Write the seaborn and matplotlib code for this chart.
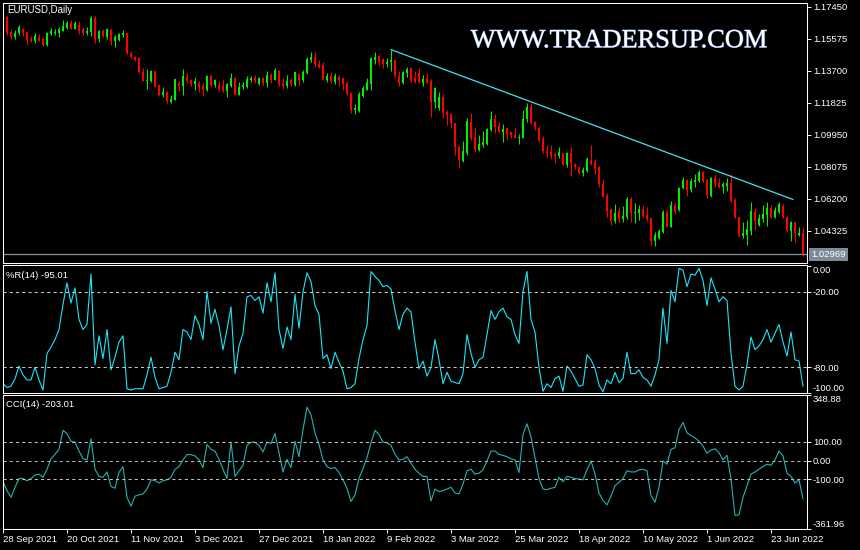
import numpy as np
import pandas as pd
import matplotlib
matplotlib.use("Agg")
import matplotlib.pyplot as plt
import matplotlib.patheffects as pe
import seaborn as sns

# ---------------- data ----------------
opens = [1.1696, 1.1685, 1.1600, 1.1571, 1.1591, 1.1616, 1.1599, 1.1556, 1.1548, 1.1563,
         1.1556, 1.1524, 1.1587, 1.1590, 1.1591, 1.1606, 1.1622, 1.1649, 1.1618, 1.1641,
         1.1614, 1.1594, 1.1599, 1.1681, 1.1559, 1.1606, 1.1571, 1.1610, 1.1548, 1.1552,
         1.1583, 1.1591, 1.1477, 1.1450, 1.1446, 1.1364, 1.1313, 1.1310, 1.1368, 1.1286,
         1.1231, 1.1247, 1.1188, 1.1200, 1.1298, 1.1282, 1.1333, 1.1317, 1.1294, 1.1301,
         1.1282, 1.1259, 1.1341, 1.1286, 1.1286, 1.1282, 1.1255, 1.1282, 1.1329, 1.1231,
         1.1274, 1.1278, 1.1317, 1.1329, 1.1294, 1.1329, 1.1298, 1.1348, 1.1319, 1.1370,
         1.1300, 1.1284, 1.1315, 1.1288, 1.1354, 1.1315, 1.1358, 1.1432, 1.1452, 1.1413,
         1.1405, 1.1315, 1.1339, 1.1304, 1.1335, 1.1327, 1.1300, 1.1241, 1.1140, 1.1136,
         1.1222, 1.1260, 1.1296, 1.1433, 1.1456, 1.1440, 1.1409, 1.1421, 1.1433, 1.1342,
         1.1300, 1.1360, 1.1386, 1.1327, 1.1356, 1.1301, 1.1327, 1.1310, 1.1187, 1.1153,
         1.1219, 1.1128, 1.1116, 1.1063, 1.0926, 1.0843, 1.0888, 1.1069, 1.0985, 1.0907,
         1.0936, 1.0940, 1.1024, 1.1089, 1.1049, 1.1014, 1.1034, 1.1011, 1.0995, 1.0979,
         1.0979, 1.1087, 1.1160, 1.1069, 1.1034, 1.0970, 1.0903, 1.0895, 1.0884, 1.0872,
         1.0888, 1.0819, 1.0888, 1.0825, 1.0806, 1.0774, 1.0786, 1.0848, 1.0838, 1.0809,
         1.0708, 1.0637, 1.0559, 1.0493, 1.0551, 1.0501, 1.0513, 1.0618, 1.0540, 1.0540,
         1.0559, 1.0526, 1.0507, 1.0375, 1.0390, 1.0428, 1.0545, 1.0458, 1.0579, 1.0555,
         1.0683, 1.0731, 1.0673, 1.0718, 1.0725, 1.0776, 1.0731, 1.0639, 1.0741, 1.0712,
         1.0692, 1.0698, 1.0712, 1.0614, 1.0516, 1.0405, 1.0409, 1.0432, 1.0545, 1.0467,
         1.0503, 1.0526, 1.0565, 1.0516, 1.0542, 1.0581, 1.0516, 1.0432, 1.0483, 1.0409,
         1.0419]
highs = [1.1701, 1.1696, 1.1614, 1.1610, 1.1641, 1.1624, 1.1606, 1.1575, 1.1591, 1.1587,
         1.1567, 1.1599, 1.1622, 1.1617, 1.1626, 1.1669, 1.1661, 1.1669, 1.1661, 1.1661,
         1.1626, 1.1626, 1.1692, 1.1692, 1.1610, 1.1618, 1.1622, 1.1618, 1.1579, 1.1591,
         1.1610, 1.1594, 1.1485, 1.1458, 1.1454, 1.1388, 1.1383, 1.1376, 1.1372, 1.1290,
         1.1274, 1.1255, 1.1228, 1.1325, 1.1310, 1.1383, 1.1360, 1.1325, 1.1337, 1.1310,
         1.1301, 1.1345, 1.1352, 1.1325, 1.1310, 1.1321, 1.1301, 1.1356, 1.1333, 1.1306,
         1.1306, 1.1341, 1.1341, 1.1345, 1.1333, 1.1333, 1.1368, 1.1356, 1.1389, 1.1378,
         1.1327, 1.1347, 1.1331, 1.1366, 1.1358, 1.1378, 1.1452, 1.1479, 1.1479, 1.1433,
         1.1421, 1.1358, 1.1366, 1.1358, 1.1347, 1.1331, 1.1311, 1.1241, 1.1178, 1.1245,
         1.1280, 1.1331, 1.1452, 1.1479, 1.1464, 1.1444, 1.1444, 1.1495, 1.1433, 1.1370,
         1.1370, 1.1395, 1.1395, 1.1372, 1.1386, 1.1347, 1.1356, 1.1325, 1.1278, 1.1247,
         1.1233, 1.1141, 1.1122, 1.1063, 1.0936, 1.0960, 1.1093, 1.1122, 1.1044, 1.0995,
         1.1018, 1.1038, 1.1136, 1.1116, 1.1073, 1.1058, 1.1038, 1.1014, 1.1038, 1.0999,
         1.1141, 1.1185, 1.1185, 1.1077, 1.1049, 1.0989, 1.0936, 1.0936, 1.0897, 1.0922,
         1.0891, 1.0897, 1.0923, 1.0833, 1.0813, 1.0809, 1.0864, 1.0936, 1.0853, 1.0813,
         1.0735, 1.0653, 1.0567, 1.0591, 1.0575, 1.0579, 1.0633, 1.0633, 1.0595, 1.0585,
         1.0583, 1.0575, 1.0507, 1.0428, 1.0442, 1.0555, 1.0559, 1.0610, 1.0598, 1.0692,
         1.0751, 1.0737, 1.0741, 1.0765, 1.0790, 1.0784, 1.0737, 1.0751, 1.0765, 1.0741,
         1.0718, 1.0745, 1.0765, 1.0624, 1.0522, 1.0487, 1.0497, 1.0604, 1.0565, 1.0530,
         1.0585, 1.0604, 1.0585, 1.0575, 1.0601, 1.0589, 1.0522, 1.0491, 1.0487, 1.0458,
         1.0458]
lows = [1.1669, 1.1581, 1.1556, 1.1557, 1.1579, 1.1577, 1.1524, 1.1540, 1.1536, 1.1544,
        1.1516, 1.1518, 1.1579, 1.1580, 1.1567, 1.1603, 1.1614, 1.1614, 1.1614, 1.1587,
        1.1579, 1.1583, 1.1575, 1.1532, 1.1540, 1.1567, 1.1559, 1.1524, 1.1512, 1.1544,
        1.1571, 1.1470, 1.1438, 1.1427, 1.1356, 1.1310, 1.1263, 1.1306, 1.1275, 1.1223,
        1.1219, 1.1185, 1.1184, 1.1200, 1.1254, 1.1231, 1.1298, 1.1282, 1.1259, 1.1247,
        1.1223, 1.1255, 1.1278, 1.1278, 1.1251, 1.1247, 1.1219, 1.1278, 1.1231, 1.1231,
        1.1263, 1.1270, 1.1306, 1.1301, 1.1290, 1.1286, 1.1274, 1.1298, 1.1315, 1.1280,
        1.1265, 1.1272, 1.1280, 1.1284, 1.1284, 1.1307, 1.1350, 1.1425, 1.1393, 1.1386,
        1.1315, 1.1307, 1.1300, 1.1296, 1.1284, 1.1260, 1.1225, 1.1124, 1.1120, 1.1132,
        1.1218, 1.1257, 1.1260, 1.1409, 1.1405, 1.1386, 1.1393, 1.1370, 1.1327, 1.1280,
        1.1296, 1.1333, 1.1307, 1.1298, 1.1298, 1.1282, 1.1298, 1.1100, 1.1155, 1.1141,
        1.1093, 1.1053, 1.1034, 1.0878, 1.0803, 1.0835, 1.0878, 1.0966, 1.0897, 1.0901,
        1.0926, 1.0936, 1.1018, 1.1005, 1.1005, 1.0956, 1.0966, 1.0975, 1.0975, 1.0940,
        1.0975, 1.1070, 1.1060, 1.1024, 1.0956, 1.0891, 1.0868, 1.0853, 1.0833, 1.0860,
        1.0817, 1.0806, 1.0755, 1.0794, 1.0766, 1.0755, 1.0780, 1.0819, 1.0766, 1.0692,
        1.0630, 1.0513, 1.0467, 1.0481, 1.0487, 1.0487, 1.0501, 1.0487, 1.0481, 1.0497,
        1.0513, 1.0493, 1.0350, 1.0344, 1.0384, 1.0422, 1.0454, 1.0454, 1.0532, 1.0550,
        1.0678, 1.0639, 1.0663, 1.0692, 1.0721, 1.0718, 1.0624, 1.0633, 1.0692, 1.0683,
        1.0653, 1.0667, 1.0604, 1.0507, 1.0399, 1.0393, 1.0350, 1.0409, 1.0438, 1.0463,
        1.0487, 1.0463, 1.0507, 1.0510, 1.0536, 1.0510, 1.0428, 1.0374, 1.0366, 1.0405,
        1.0288]
closes = [1.1682, 1.1594, 1.1567, 1.1594, 1.1626, 1.1591, 1.1552, 1.1546, 1.1575, 1.1548,
          1.1524, 1.1594, 1.1602, 1.1601, 1.1614, 1.1634, 1.1653, 1.1618, 1.1649, 1.1602,
          1.1591, 1.1606, 1.1681, 1.1559, 1.1606, 1.1575, 1.1614, 1.1548, 1.1571, 1.1587,
          1.1594, 1.1477, 1.1450, 1.1434, 1.1364, 1.1313, 1.1317, 1.1372, 1.1278, 1.1231,
          1.1247, 1.1192, 1.1204, 1.1321, 1.1282, 1.1341, 1.1310, 1.1294, 1.1310, 1.1278,
          1.1259, 1.1341, 1.1290, 1.1317, 1.1263, 1.1255, 1.1294, 1.1329, 1.1231, 1.1278,
          1.1286, 1.1321, 1.1329, 1.1310, 1.1329, 1.1298, 1.1345, 1.1317, 1.1378, 1.1292,
          1.1284, 1.1311, 1.1292, 1.1362, 1.1315, 1.1366, 1.1440, 1.1452, 1.1409, 1.1393,
          1.1319, 1.1339, 1.1311, 1.1343, 1.1315, 1.1292, 1.1233, 1.1140, 1.1151, 1.1237,
          1.1272, 1.1307, 1.1444, 1.1452, 1.1421, 1.1413, 1.1425, 1.1433, 1.1342, 1.1300,
          1.1362, 1.1380, 1.1317, 1.1307, 1.1307, 1.1321, 1.1301, 1.1190, 1.1269, 1.1218,
          1.1122, 1.1112, 1.1063, 1.0926, 1.0848, 1.0901, 1.1077, 1.0976, 1.0907, 1.0940,
          1.0952, 1.1030, 1.1089, 1.1044, 1.1014, 1.1030, 1.0999, 1.0995, 1.0979, 1.0985,
          1.1087, 1.1160, 1.1067, 1.1044, 1.0966, 1.0903, 1.0891, 1.0872, 1.0872, 1.0895,
          1.0819, 1.0891, 1.0829, 1.0809, 1.0770, 1.0790, 1.0853, 1.0825, 1.0794, 1.0708,
          1.0633, 1.0551, 1.0493, 1.0540, 1.0501, 1.0520, 1.0618, 1.0540, 1.0546, 1.0559,
          1.0520, 1.0501, 1.0375, 1.0409, 1.0434, 1.0545, 1.0458, 1.0585, 1.0546, 1.0686,
          1.0731, 1.0673, 1.0725, 1.0731, 1.0776, 1.0725, 1.0643, 1.0745, 1.0706, 1.0692,
          1.0706, 1.0712, 1.0608, 1.0516, 1.0405, 1.0419, 1.0444, 1.0550, 1.0491, 1.0510,
          1.0530, 1.0569, 1.0516, 1.0555, 1.0589, 1.0516, 1.0432, 1.0483, 1.0419, 1.0420,
          1.02969]

wpr = [-93, -96, -95, -89, -79, -86, -90, -90, -80, -90,
       -98, -69, -64, -58, -50, -30, -13, -29, -17, -42,
       -50, -46, -6, -78, -55, -73, -50, -82, -72, -60,
       -55, -97, -98, -97, -97, -97, -86, -72, -88, -97,
       -96, -95, -84, -68, -74, -50, -52, -58, -39, -46,
       -58, -20, -45, -34, -47, -66, -50, -32, -85, -63,
       -53, -24, -23, -27, -24, -37, -13, -28, -5, -50,
       -65, -48, -58, -22, -49, -20, -5, -12, -31, -38,
       -73, -70, -81, -68, -76, -83, -97, -96, -93, -73,
       -58, -47, -4, -8, -11, -16, -15, -18, -35, -50,
       -38, -33, -36, -60, -81, -75, -87, -80, -58, -74,
       -93, -84, -91, -92, -93, -85, -54, -69, -80, -74,
       -72, -54, -35, -42, -36, -33, -40, -42, -54, -61,
       -20, -4, -42, -52, -80, -99, -93, -96, -89, -87,
       -99, -79, -83, -89, -95, -94, -70, -74, -81, -94,
       -99.5, -90, -93, -84, -92, -89, -68, -85, -85, -82,
       -88, -90, -95, -86, -74, -33, -61, -19, -28, -1.5,
       -3, -16, -6, -7, -1.5, -11, -31, -9, -18, -28,
       -24, -27, -69, -95, -98, -95, -78, -56, -66, -63,
       -58, -50, -60, -53, -46, -60, -71, -52, -74, -75,
       -95.01]

cci = [-112, -160, -195, -142, -95, -95, -107, -95, -77, -72,
       -89, -46, 10, 33, 60, 161, 144, 103, 98, 51,
       10, 4, 116, -46, -84, -89, -60, -137, -147, -63,
       -32, -195, -242, -189, -182, -177, -151, -102, -107, -119,
       -107, -102, -89, -46, -32, 4, 32, 32, 25, 4,
       -37, 86, 60, 51, 7, -46, -95, 98, -84, -54,
       -25, 81, 98, 98, 81, 46, 98, 91, 144, 42,
       -60, 7, -37, 103, 21, 165, 284, 244, 147, 86,
       4, -32, -42, -37, -63, -102, -147, -217, -182, -95,
       -42, 16, 95, 161, 139, 98, 95, 81, 33, 4,
       7, 21, -14, -46, -67, -84, -84, -215,
       -151, -165, -160, -151, -142, -172, -177, -125, -54, -46,
       -72, -67, -49, -2, 51, 51, 33, 28, 21, 10,
       4, -63, 139, 196, 126, 16, -95, -151, -154, -147,
       -142, -89, -112, -84, -89, -95, -98, -102, -49, -2,
       -72, -172, -212, -235, -189, -133, -116, -95, -54, -60,
       -60, -49, -46, -54, -186, -221, -142, -2, -19, 60,
       68, 165, 203, 147, 133, 121, 103, 77, 39, 56,
       63, 42, 4, 28, -98, -291, -288, -195, -133, -72,
       -60, -46, -32, -19, -25, 4, 51, 25, -67, -84,
       -119, -102, -203.01]

date_labels = ["28 Sep 2021", "20 Oct 2021", "11 Nov 2021", "3 Dec 2021", "27 Dec 2021",
               "18 Jan 2022", "9 Feb 2022", "3 Mar 2022", "25 Mar 2022", "18 Apr 2022",
               "10 May 2022", "1 Jun 2022", "23 Jun 2022"]
date_label_bars = [0, 16, 32, 48, 64, 80, 96, 112, 128, 144, 160, 176, 192]
price_ticks = [1.17450, 1.15575, 1.13700, 1.11825, 1.09950, 1.08075, 1.06200, 1.04325]
wpr_levels = [-20, -80]
wpr_ticks = [0, -20, -80, -100]
cci_levels = [100, 0, -100]
cci_ticks = [348.88, 100, 0, -100, -361.96]
bid_price = 1.02969
trend_bars = [97, 197.5]
trend_prices = [1.1495, 1.0617]

# ---------------- style ----------------
sns.set_theme(style="dark", rc={
    "figure.facecolor": "black", "axes.facecolor": "black",
    "axes.edgecolor": "white", "text.color": "white",
    "xtick.color": "white", "ytick.color": "white",
    "axes.grid": False, "axes.linewidth": 0.75,
})
plt.rcParams["font.family"] = ["Liberation Sans", "DejaVu Sans"]

W, H = 860, 550
fig = plt.figure(figsize=(W / 100, H / 100), dpi=100, facecolor="black")


def px_axes(x0, y0, x1, y1):
    return fig.add_axes([x0 / W, 1 - y1 / H, (x1 - x0) / W, (y1 - y0) / H])


ax1 = px_axes(3, 3, 807, 263)
ax2 = px_axes(3, 264.7, 807, 393.3)
ax3 = px_axes(3, 394.7, 807, 528.7)

n = len(closes)
df = pd.DataFrame({"bar": np.arange(n), "open": opens, "high": highs,
                   "low": lows, "close": closes})
up = df["close"] >= df["open"]
col = np.where(up, "#00ee00", "#ff0000")

# candles
ax1.vlines(df["bar"], df["low"], df["high"], colors=col, linewidth=0.75)
body_bottom = np.minimum(df["open"], df["close"])
body_h = np.maximum((df["close"] - df["open"]).abs(), 0.0005)
ax1.bar(df["bar"], body_h, bottom=body_bottom, width=0.68, color=col, linewidth=0)

# trend line
sns.lineplot(x=trend_bars, y=trend_prices, ax=ax1, color="#3fe3f2", linewidth=0.9,
             estimator=None)
# bid line
ax1.axhline(bid_price, color="#8392a3", linewidth=0.9)

ax1.set_xlim(0, 201)
ax1.set_ylim(1.0245, 1.1768)

# Williams %R
wdf = pd.DataFrame({"bar": np.arange(n), "wpr": wpr})
sns.lineplot(data=wdf, x="bar", y="wpr", ax=ax2, color="#19e6f7", linewidth=0.8,
             estimator=None)
for lv in wpr_levels:
    ax2.axhline(lv, color="#c8c8c8", linewidth=0.75, linestyle=(0, (3, 3)))
ax2.set_xlim(0, 201)
ax2.set_ylim(-100.6, 1.4)

# CCI
cdf = pd.DataFrame({"bar": np.arange(n), "cci": cci})
sns.lineplot(data=cdf, x="bar", y="cci", ax=ax3, color="#22b5b0", linewidth=0.8,
             estimator=None)
for lv in cci_levels:
    ax3.axhline(lv, color="#c0c0c0" if lv != 0 else "#a8b0b8", linewidth=0.75,
                linestyle=(0, (3, 3)))
ax3.set_xlim(0, 201)
ax3.set_ylim(-354.7, 350.5)

# axes decoration
for ax in (ax1, ax2, ax3):
    ax.set_xlabel("")
    ax.set_ylabel("")
    for s in ax.spines.values():
        s.set_color("white")
        s.set_linewidth(0.75)
    ax.tick_params(axis="y", left=False, right=True, labelleft=False, labelright=True,
                   direction="out", length=3, width=0.7, colors="white", pad=1.2,
                   labelsize=6.8)
    ax.tick_params(axis="x", bottom=False, labelbottom=False)

ax1.set_yticks(price_ticks)
ax1.set_yticklabels([f"{p:.5f}" for p in price_ticks])

ax2.set_yticks(wpr_ticks)
ax2.set_yticklabels([f"{v:.2f}" for v in wpr_ticks])
tl = ax2.get_yticklabels()
tl[0].set_va("top")
tl[-1].set_va("bottom")

ax3.set_yticks(cci_ticks)
ax3.set_yticklabels([f"{v:.2f}" for v in cci_ticks])
tl = ax3.get_yticklabels()
tl[0].set_va("top")
tl[-1].set_va("bottom")

ax3.set_xticks(date_label_bars)
ax3.set_xticklabels(date_labels)
ax3.tick_params(axis="x", bottom=True, labelbottom=True, direction="out", length=3,
                width=0.7, colors="white", pad=1.5, labelsize=6.8)
for t in ax3.get_xticklabels():
    t.set_ha("left")

# bid price box
ax1.annotate(f"{bid_price:.5f}", xy=(1.0, bid_price), xycoords=("axes fraction", "data"),
             xytext=(4, 0), textcoords="offset pixels", ha="left", va="center",
             fontsize=6.8, color="white",
             bbox=dict(boxstyle="square,pad=0.22", fc="#7d8b99", ec="none"),
             annotation_clip=False)

# panel captions
fig.text(7 / W, 1 - 10 / H, "EURUSD,Daily", fontsize=7.0, color="white", va="center")
fig.text(6 / W, 1 - 275 / H, "%R(14) -95.01", fontsize=6.8, color="white", va="center")
fig.text(6 / W, 1 - 404.7 / H, "CCI(14) -203.01", fontsize=6.8, color="white", va="center")

# watermark
fig.text(619 / W, 1 - 47.3 / H, "WWW.TRADERSUP.COM", fontsize=19, color="white",
         ha="center", va="baseline", family=["Liberation Serif", "DejaVu Serif"],
         path_effects=[pe.withStroke(linewidth=0.7, foreground="#6d8ad0")])

fig.savefig("out.png", dpi=100, facecolor="black")
